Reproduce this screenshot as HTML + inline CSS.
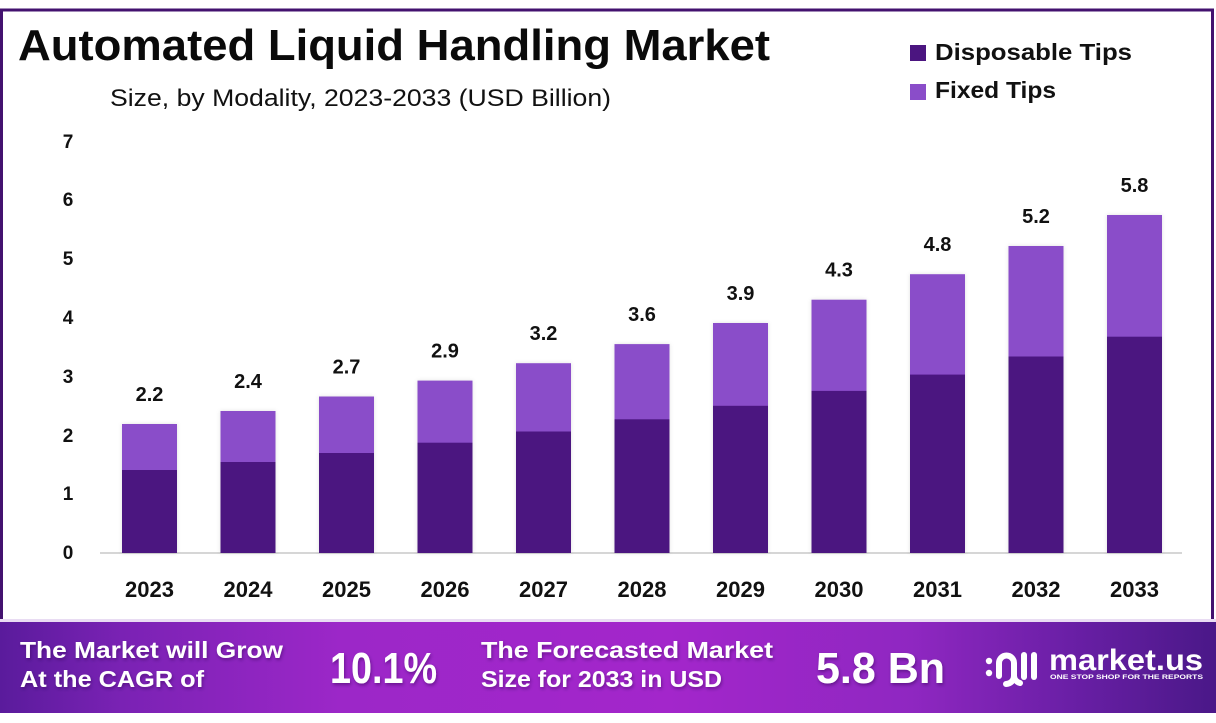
<!DOCTYPE html>
<html>
<head>
<meta charset="utf-8">
<style>
  html,body{margin:0;padding:0;background:#fff;}
  svg{display:block;}
  text{font-family:"Liberation Sans", Arial, sans-serif;}
</style>
</head>
<body>
<svg width="1216" height="723" viewBox="0 0 1216 723" xmlns="http://www.w3.org/2000/svg">
  <defs>
    <linearGradient id="foot" x1="0" y1="0" x2="1" y2="0">
      <stop offset="0" stop-color="#5a1b9c"/>
      <stop offset="0.10" stop-color="#7a22b4"/>
      <stop offset="0.28" stop-color="#9c27c8"/>
      <stop offset="0.55" stop-color="#a326cb"/>
      <stop offset="0.75" stop-color="#8f27c1"/>
      <stop offset="0.88" stop-color="#6a1fa6"/>
      <stop offset="1" stop-color="#4a1888"/>
    </linearGradient>
    <filter id="sh" x="-20%" y="-10%" width="140%" height="120%">
      <feDropShadow dx="0" dy="0" stdDeviation="2" flood-color="#000" flood-opacity="0.12"/>
    </filter>
    <filter id="tsh" x="-10%" y="-20%" width="120%" height="150%">
      <feDropShadow dx="1" dy="2" stdDeviation="1.5" flood-color="#2a0050" flood-opacity="0.45"/>
    </filter>
  </defs>

  <rect x="0" y="0" width="1216" height="723" fill="#fff"/>
  <!-- frame -->
  <rect x="1.5" y="10" width="1211" height="612" fill="#fff" stroke="#43126f" stroke-width="3"/>

  <!-- title -->
  <text x="18" y="60" font-size="44" font-weight="bold" fill="#0a0a0a" textLength="752" lengthAdjust="spacingAndGlyphs">Automated Liquid Handling Market</text>
  <text x="110" y="106" font-size="24" fill="#111" textLength="501" lengthAdjust="spacingAndGlyphs">Size, by Modality, 2023-2033 (USD Billion)</text>

  <!-- legend -->
  <rect x="910" y="45" width="16" height="16" fill="#4b1580"/>
  <text x="935" y="60" font-size="23" font-weight="bold" fill="#111" textLength="197" lengthAdjust="spacingAndGlyphs">Disposable Tips</text>
  <rect x="910" y="84" width="16" height="16" fill="#8a4dc9"/>
  <text x="935" y="98" font-size="23" font-weight="bold" fill="#111" textLength="121" lengthAdjust="spacingAndGlyphs">Fixed Tips</text>

  <!-- y axis labels -->
  <g font-size="19" font-weight="bold" fill="#111" text-anchor="middle">
    <text x="68" y="559">0</text>
    <text x="68" y="500">1</text>
    <text x="68" y="442">2</text>
    <text x="68" y="383">3</text>
    <text x="68" y="324">4</text>
    <text x="68" y="265">5</text>
    <text x="68" y="206">6</text>
    <text x="68" y="148">7</text>
  </g>

  <!-- axis line -->
  <line x1="100" y1="553" x2="1182" y2="553" stroke="#d6d6d6" stroke-width="2"/>

  <!-- bars -->
  <g filter="url(#sh)">
    <!-- 2023 -->
    <rect x="122" y="424" width="55" height="129" fill="#8a4dc9"/>
    <rect x="122" y="470" width="55" height="83" fill="#4b1580"/>
    <!-- 2024 -->
    <rect x="220.5" y="411" width="55" height="142" fill="#8a4dc9"/>
    <rect x="220.5" y="462" width="55" height="91" fill="#4b1580"/>
    <!-- 2025 -->
    <rect x="319" y="396.5" width="55" height="156.5" fill="#8a4dc9"/>
    <rect x="319" y="453" width="55" height="100" fill="#4b1580"/>
    <!-- 2026 -->
    <rect x="417.5" y="380.6" width="55" height="172.4" fill="#8a4dc9"/>
    <rect x="417.5" y="442.7" width="55" height="110.3" fill="#4b1580"/>
    <!-- 2027 -->
    <rect x="516" y="363.2" width="55" height="189.8" fill="#8a4dc9"/>
    <rect x="516" y="431.5" width="55" height="121.5" fill="#4b1580"/>
    <!-- 2028 -->
    <rect x="614.5" y="344.1" width="55" height="208.9" fill="#8a4dc9"/>
    <rect x="614.5" y="419.3" width="55" height="133.7" fill="#4b1580"/>
    <!-- 2029 -->
    <rect x="713" y="323" width="55" height="230" fill="#8a4dc9"/>
    <rect x="713" y="405.8" width="55" height="147.2" fill="#4b1580"/>
    <!-- 2030 -->
    <rect x="811.5" y="299.7" width="55" height="253.3" fill="#8a4dc9"/>
    <rect x="811.5" y="390.9" width="55" height="162.1" fill="#4b1580"/>
    <!-- 2031 -->
    <rect x="910" y="274.2" width="55" height="278.8" fill="#8a4dc9"/>
    <rect x="910" y="374.6" width="55" height="178.4" fill="#4b1580"/>
    <!-- 2032 -->
    <rect x="1008.5" y="246" width="55" height="307" fill="#8a4dc9"/>
    <rect x="1008.5" y="356.5" width="55" height="196.5" fill="#4b1580"/>
    <!-- 2033 -->
    <rect x="1107" y="215" width="55" height="338" fill="#8a4dc9"/>
    <rect x="1107" y="336.7" width="55" height="216.3" fill="#4b1580"/>
  </g>

  <!-- value labels -->
  <g font-size="20" font-weight="bold" fill="#111" text-anchor="middle">
    <text x="149.5" y="401">2.2</text>
    <text x="248" y="388">2.4</text>
    <text x="346.5" y="373.5">2.7</text>
    <text x="445" y="357.6">2.9</text>
    <text x="543.5" y="340.2">3.2</text>
    <text x="642" y="321.1">3.6</text>
    <text x="740.5" y="300">3.9</text>
    <text x="839" y="276.7">4.3</text>
    <text x="937.5" y="251.2">4.8</text>
    <text x="1036" y="223">5.2</text>
    <text x="1134.5" y="192">5.8</text>
  </g>

  <!-- x labels -->
  <g font-size="22" font-weight="bold" fill="#111" text-anchor="middle">
    <text x="149.5" y="597">2023</text>
    <text x="248" y="597">2024</text>
    <text x="346.5" y="597">2025</text>
    <text x="445" y="597">2026</text>
    <text x="543.5" y="597">2027</text>
    <text x="642" y="597">2028</text>
    <text x="740.5" y="597">2029</text>
    <text x="839" y="597">2030</text>
    <text x="937.5" y="597">2031</text>
    <text x="1036" y="597">2032</text>
    <text x="1134.5" y="597">2033</text>
  </g>

  <!-- footer -->
  <rect x="0" y="619" width="1216" height="3" fill="#e9dcf3"/>
  <rect x="0" y="622" width="1216" height="91" fill="url(#foot)"/>

  <g fill="#fff" font-weight="bold" filter="url(#tsh)">
    <text x="20" y="658" font-size="23" textLength="263" lengthAdjust="spacingAndGlyphs">The Market will Grow</text>
    <text x="20" y="687" font-size="23" textLength="184" lengthAdjust="spacingAndGlyphs">At the CAGR of</text>
    <text x="330" y="683" font-size="44" textLength="107" lengthAdjust="spacingAndGlyphs">10.1%</text>
    <text x="481" y="658" font-size="23" textLength="292" lengthAdjust="spacingAndGlyphs">The Forecasted Market</text>
    <text x="481" y="687" font-size="23" textLength="241" lengthAdjust="spacingAndGlyphs">Size for 2033 in USD</text>
    <text x="816" y="683" font-size="44" textLength="129" lengthAdjust="spacingAndGlyphs">5.8 Bn</text>
  </g>

  <!-- logo -->
  <g fill="none" stroke="#fff" stroke-width="6" stroke-linecap="round">
    <path d="M999 676 L999 663 A7.5 7.5 0 0 1 1014 663 L1014 676 A8 8 0 0 1 1006 684"/>
    <path d="M1014 676 A8 8 0 0 0 1020 683"/>
    <line x1="1024" y1="655" x2="1024" y2="677"/>
    <line x1="1034" y1="655" x2="1034" y2="677"/>
  </g>
  <circle cx="989" cy="661" r="3.2" fill="#fff"/>
  <circle cx="989" cy="673" r="3.2" fill="#fff"/>
  <text x="1049" y="670" font-size="30" font-weight="bold" fill="#fff" textLength="154" lengthAdjust="spacingAndGlyphs">market.us</text>
  <text x="1050" y="679" font-size="6" font-weight="bold" fill="#fff" textLength="153" lengthAdjust="spacingAndGlyphs">ONE STOP SHOP FOR THE REPORTS</text>
</svg>
</body>
</html>
